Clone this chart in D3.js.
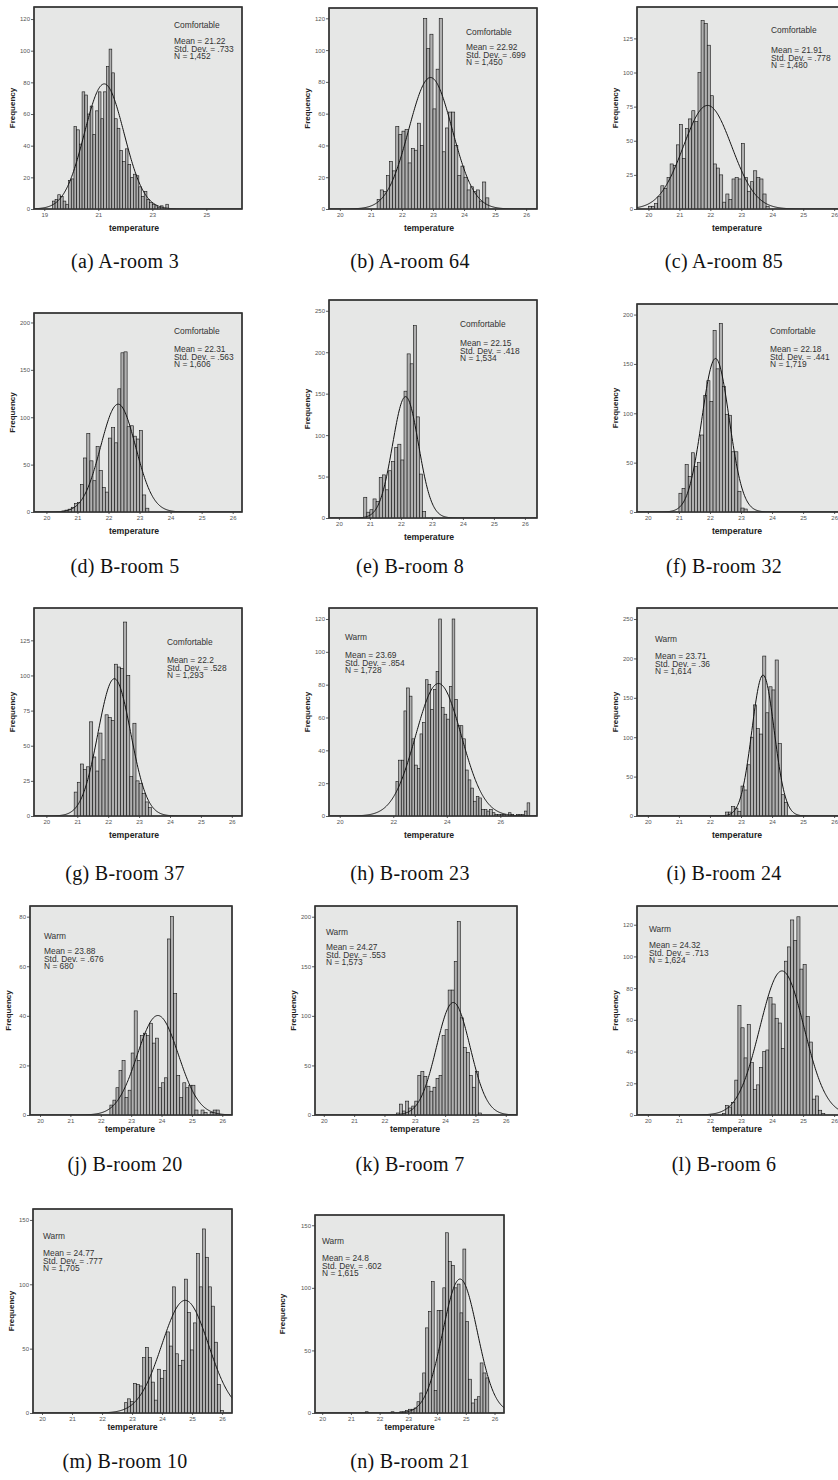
<!DOCTYPE html>
<html>
<head>
<meta charset="utf-8">
<script src="https://cdn.jsdelivr.net/npm/d3@7"></script>
<style>
  body { margin: 0; background: #fff; }
  svg { display: block; }
  .axis text { font-family: 'Liberation Sans', Arial, sans-serif; font-size: 6px; fill: #555; }
  .axis path { display: none; }
  .axis line { stroke: #333; stroke-width: 0.8; }
  .frame { fill: #e6e7e6; stroke: #333; stroke-width: 1.3; }
  .bar { fill: #b0b0b0; stroke: #111; stroke-width: 0.6; }
  .curve { fill: none; stroke: #111; stroke-width: 1; }
  .axis-title { font-family: 'Liberation Sans', Arial, sans-serif; font-size: 8px; font-weight: bold; fill: #222; }
  .xtitle { font-size: 8.7px; }
  .note { font-family: 'Liberation Sans', Arial, sans-serif; font-size: 8.4px; fill: #333; }
  .caption { font-family: 'Liberation Serif', 'DejaVu Serif', serif; font-size: 20px; letter-spacing: 0.3px; fill: #111; }
</style>
</head>
<body>
<svg id="chart" width="838" height="1480"></svg>
<script>
// captions and summary numbers printed in each panel
const captions = ['(a) A-room 3', '(b) A-room 64', '(c) A-room 85', '(d) B-room 5', '(e) B-room 8',
  '(f) B-room 32', '(g) B-room 37', '(h) B-room 23', '(i) B-room 24', '(j) B-room 20',
  '(k) B-room 7', '(l) B-room 6', '(m) B-room 10', '(n) B-room 21'];
const comfort = ['Comfortable', 'Comfortable', 'Comfortable', 'Comfortable', 'Comfortable',
  'Comfortable', 'Comfortable', 'Warm', 'Warm', 'Warm', 'Warm', 'Warm', 'Warm', 'Warm'];
const means = [21.22, 22.92, 21.91, 22.31, 22.15, 22.18, 22.2, 23.69, 23.71, 23.88, 24.27, 24.32, 24.77, 24.8];
const stdDevs = [.733, .699, .778, .563, .418, .441, .528, .854, .36, .676, .553, .713, .777, .602];
const sampleSizes = [1452, 1450, 1480, 1606, 1534, 1719, 1293, 1728, 1614, 680, 1573, 1624, 1705, 1615];

// histogram bins, width 0.1 degC, first bin edge in binStarts
const binWidth = 0.1;
const binStarts = [19.3, 21.2, 20.0, 20.5, 20.8, 21.0, 20.9, 22.1, 22.5, 22.3, 22.4, 22.4, 22.75, 21.5];
const freqA3 = [5, 6, 9, 8, 5, 3, 18, 19, 52, 50, 41, 74, 72, 60, 65, 47, 62, 74, 57, 74, 90, 101, 86,
  57, 51, 37, 30, 38, 28, 20, 22, 21, 14, 8, 11, 6, 4, 3, 2, 1, 2, 0, 3];
const freqA64 = [6, 12, 11, 21, 30, 24, 52, 47, 49, 50, 29, 38, 37, 54, 40, 120, 101, 110, 63, 88, 120,
  36, 51, 61, 61, 40, 21, 27, 20, 12, 14, 11, 12, 5, 17, 7];
const freqA85 = [2, 2, 4, 9, 17, 15, 23, 33, 32, 47, 62, 37, 59, 66, 72, 64, 100, 138, 136, 120, 83,
  33, 30, 25, 5, 11, 7, 22, 23, 22, 48, 23, 13, 20, 28, 23, 22, 11, 2];
const freqB5 = [1, 2, 3, 5, 9, 10, 29, 57, 83, 54, 33, 69, 44, 26, 21, 78, 89, 73, 130, 168, 169,
  90, 91, 80, 77, 86, 18, 4];
const freqB8 = [25, 7, 10, 23, 20, 49, 52, 34, 57, 68, 85, 89, 70, 153, 198, 186, 232, 122, 53, 8];
const freqB32 = [19, 24, 48, 36, 60, 46, 50, 78, 118, 133, 112, 184, 145, 191, 127, 99, 98, 61, 61, 21, 4, 3];
const freqB37 = [17, 24, 37, 33, 35, 67, 42, 32, 59, 40, 72, 70, 68, 108, 106, 105, 138, 100, 28, 66,
  25, 23, 16, 10, 6];
const freqB23 = [21, 34, 34, 64, 78, 73, 47, 31, 29, 50, 57, 83, 80, 65, 77, 88, 120, 66, 62, 59, 79,
  120, 71, 55, 55, 47, 28, 22, 17, 9, 12, 11, 4, 4, 3, 4, 2, 1, 1, 1, 1, 0, 2, 1, 0, 1, 1, 1, 3, 8];
const freqB24 = [5, 5, 12, 10, 6, 38, 33, 65, 100, 141, 111, 104, 203, 131, 164, 160, 198, 92, 27, 17];
const freqB20 = [4, 6, 11, 18, 22, 7, 10, 25, 42, 22, 32, 33, 32, 37, 29, 31, 11, 13, 15, 71, 80, 49,
  16, 7, 13, 11, 12, 12, 2, 0, 2, 1, 0, 1, 2, 2];
const freqB7 = [2, 11, 4, 14, 7, 9, 14, 40, 44, 39, 29, 24, 28, 37, 40, 80, 86, 126, 126, 155, 195,
  98, 68, 63, 40, 28, 44, 2];
const freqB6 = [1, 6, 5, 8, 22, 69, 55, 36, 57, 33, 16, 19, 30, 40, 41, 74, 70, 61, 58, 42, 97, 106,
  123, 110, 125, 92, 95, 62, 46, 10, 12, 3, 1];
const freqB10 = [8, 11, 9, 23, 22, 21, 43, 51, 43, 24, 10, 34, 27, 33, 63, 52, 98, 46, 37, 41, 104,
  78, 49, 70, 124, 98, 143, 121, 98, 83, 55, 22, 2];
const freqB21 = [1, 0, 0, 0, 0, 0, 0, 0, 0, 1, 0, 0, 1, 1, 2, 3, 3, 4, 9, 16, 32, 68, 81, 105, 18, 82,
  82, 100, 144, 121, 118, 100, 103, 80, 131, 73, 27, 8, 11, 13, 40, 32, 28];
const frequencies = [freqA3, freqA64, freqA85, freqB5, freqB8, freqB32, freqB37, freqB23, freqB24,
  freqB20, freqB7, freqB6, freqB10, freqB21];

// axis ranges and ticks
const xDomains = [[18.62, 26.32], [19.65, 26.35], [19.63, 26.35], [19.6, 26.3], [19.68, 26.39],
  [19.65, 26.35], [19.6, 26.33], [19.6, 27.37], [19.65, 26.35], [19.67, 26.32], [19.71, 26.37],
  [19.65, 26.35], [19.7, 26.33], [19.75, 26.33]];
const xTickValues = [[19, 21, 23, 25], null, null, null, null, null, null, [20, 22, 24, 26],
  null, null, null, null, null, null];
const yMax = [127.6, 126.5, 148, 210, 263, 210.7, 148, 126.7, 264, 84.3, 210.8, 131.8, 158.5, 158.2];
const yStep = [20, 20, 25, 50, 50, 50, 25, 20, 50, 20, 50, 20, 50, 50];

// layout: plot frame [x, y, w, h] and note anchors
const frames = [
  [34, 7, 208, 202], [329, 8, 208, 201], [637, 7, 208, 202],
  [34, 313, 208, 199], [329, 300, 208, 218], [637, 304, 208, 208],
  [34, 608, 208, 208], [329, 608, 208, 208], [637, 608, 208, 208],
  [30, 906, 202, 209], [315, 906, 202, 209], [637, 906, 208, 209],
  [33, 1209, 199, 204], [315, 1215, 189, 198]
];
const notePos = [[174, 28], [466, 35], [771, 33], [174, 334], [460, 327], [770, 334], [167, 645],
  [345, 640], [655, 642], [44, 939], [326, 935], [649, 932], [43, 1239], [322, 1244]];
const noteMeanY = [44, 50, 53, 352, 346, 352, 663, 658, 659, 954, 950, 948, 1256, 1261];
const captionX = [125, 410, 724];
const captionY = [268, 573, 880, 1171, 1468];

const svg = d3.select('#chart');
const fmtN = d3.format(',');
const fmtSd = v => String(v).replace(/^0/, '');

frames.forEach((f, i) => {
  const [fx, fy, fw, fh] = f;
  const row = Math.floor(i / 3);
  const g = svg.append('g');

  const x = d3.scaleLinear().domain(xDomains[i]).range([fx, fx + fw]);
  const y = d3.scaleLinear().domain([0, yMax[i]]).range([fy + fh, fy]);

  g.append('rect')
    .attr('class', 'frame')
    .attr('x', fx).attr('y', fy)
    .attr('width', fw).attr('height', fh);

  g.append('clipPath').attr('id', `clip${i}`)
    .append('rect')
      .attr('x', fx).attr('y', fy)
      .attr('width', fw).attr('height', fh);

  const plot = g.append('g').attr('clip-path', `url(#clip${i})`);

  const bins = frequencies[i].map((v, k) => ({x0: binStarts[i] + k * binWidth, v}))
    .filter(d => d.v > 0);

  plot.selectAll('rect.bar')
    .data(bins)
    .join('rect')
      .attr('class', 'bar')
      .attr('x', d => x(d.x0))
      .attr('y', d => y(d.v))
      .attr('width', d => x(d.x0 + binWidth) - x(d.x0))
      .attr('height', d => y(0) - y(d.v));

  // fitted normal curve scaled to counts per bin
  const m = means[i], s = stdDevs[i], n = sampleSizes[i];
  const pts = d3.range(xDomains[i][0], xDomains[i][1] + 0.02, 0.02);
  const curve = d3.line()
    .x(t => x(t))
    .y(t => y(n * binWidth * Math.exp(-0.5 * ((t - m) / s) ** 2) / (s * Math.sqrt(2 * Math.PI))));
  plot.append('path').attr('class', 'curve').attr('d', curve(pts));

  // redraw the frame border above the bars
  g.append('rect')
    .attr('x', fx).attr('y', fy)
    .attr('width', fw).attr('height', fh)
    .attr('fill', 'none').attr('stroke', '#333').attr('stroke-width', 1.3);

  const xTicks = xTickValues[i] || d3.range(20, 27);
  g.append('g')
    .attr('class', 'axis')
    .attr('transform', `translate(0,${fy + fh})`)
    .call(d3.axisBottom(x).tickValues(xTicks).tickSize(2).tickPadding(2).tickFormat(d3.format('d')));

  g.append('g')
    .attr('class', 'axis')
    .attr('transform', `translate(${fx},0)`)
    .call(d3.axisLeft(y).tickValues(d3.range(0, yMax[i], yStep[i])).tickSize(3).tickPadding(1));

  g.append('text')
    .attr('class', 'axis-title xtitle')
    .attr('x', Math.min(fx + fw / 2, fx + 100))
    .attr('y', fy + fh + (row < 3 ? 22 : 17))
    .attr('text-anchor', 'middle')
    .text('temperature');

  const fqx = i === 13 ? fx - 33 : fx - 22;
  g.append('text')
    .attr('class', 'axis-title')
    .attr('transform', `translate(${fqx + 3},${fy + fh / 2}) rotate(-90)`)
    .attr('text-anchor', 'middle')
    .text('Frequency');

  const [nx, ny] = notePos[i];
  g.append('text').attr('class', 'note').attr('x', nx).attr('y', ny).text(comfort[i]);
  const lines = [`Mean = ${m}`, `Std. Dev. = ${fmtSd(s)}`, `N = ${fmtN(n)}`];
  g.selectAll('text.stat')
    .data(lines)
    .join('text')
      .attr('class', 'note stat')
      .attr('x', nx)
      .attr('y', (d, k) => noteMeanY[i] + k * 7.5)
      .text(d => d);

  g.append('text')
    .attr('class', 'caption')
    .attr('x', captionX[i % 3])
    .attr('y', captionY[row])
    .attr('text-anchor', 'middle')
    .text(captions[i]);
});
</script>
</body>
</html>
